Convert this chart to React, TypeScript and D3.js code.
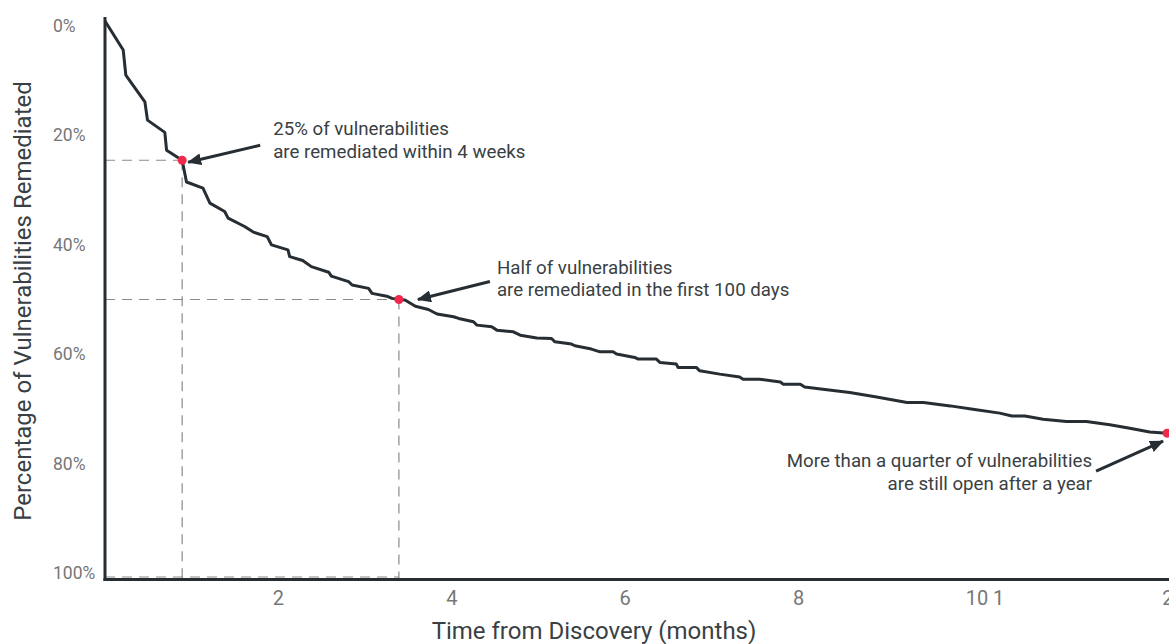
import * as d3 from 'd3';
import React, { useEffect, useRef } from 'react';

// time from discovery (months) and share of vulnerabilities remediated (%)
const months = [0, 0.21, 0.24, 0.46, 0.49, 0.69, 0.71, 0.89, 0.94, 1.13, 1.21, 1.38, 1.42, 1.61, 1.71, 1.87, 1.92, 2.11, 2.13, 2.28, 2.38, 2.58, 2.61, 2.81, 2.85, 3.04, 3.08, 3.25, 3.31, 3.39, 3.46, 3.58, 3.73, 3.83, 4.02, 4.08, 4.25, 4.29, 4.46, 4.52, 4.71, 4.79, 4.98, 5.15, 5.19, 5.38, 5.42, 5.61, 5.71, 5.86, 5.90, 6.11, 6.15, 6.36, 6.40, 6.59, 6.61, 6.82, 6.86, 7.09, 7.32, 7.36, 7.55, 7.79, 7.82, 8.02, 8.07, 8.28, 8.59, 8.90, 9.25, 9.44, 9.75, 10.01, 10.32, 10.46, 10.61, 10.82, 11.09, 11.32, 11.59, 11.82, 12.05, 12.25];
const remediated = [0, 5.2, 9.7, 14.5, 17.8, 20.0, 23.2, 25.0, 28.9, 30.0, 32.7, 34.2, 35.4, 36.9, 37.9, 38.7, 40.2, 41.1, 42.3, 43.0, 44.1, 45.1, 45.8, 46.8, 47.4, 48.0, 48.9, 49.4, 49.8, 50.0, 50.1, 51.2, 51.8, 52.6, 53.1, 53.4, 54.0, 54.6, 54.9, 55.5, 55.8, 56.4, 56.9, 57.0, 57.6, 58.0, 58.3, 58.9, 59.4, 59.4, 59.8, 60.4, 60.7, 60.7, 61.3, 61.6, 62.2, 62.2, 62.8, 63.4, 63.9, 64.3, 64.3, 64.8, 65.2, 65.2, 65.7, 66.1, 66.7, 67.5, 68.5, 68.5, 69.1, 69.7, 70.4, 70.9, 70.9, 71.5, 71.9, 71.9, 72.5, 73.1, 73.8, 74.0];

const yTicks = [0, 20, 40, 60, 80, 100];
const xTickValues = [2, 4, 6, 8, 10.15, 12.26];
const xTickLabels = ['2', '4', '6', '8', '10 1', '2'];

// highlighted points + their notes
const markMonths = [0.89, 3.39, 12.25];
const markValues = [25, 50, 74];
const markGuides = [true, true, false];
const noteLines = [
    ['25% of vulnerabilities', 'are remediated within 4 weeks'],
    ['Half of vulnerabilities', 'are remediated in the first 100 days'],
    ['More than a quarter of vulnerabilities', 'are still open after a year'],
];

const W = 1169, H = 644;
const FONT = 'Roboto, "Noto Sans", sans-serif';
const DARK = '#262d33';
const RED = '#f0284c';

export default function App() {
    const ref = useRef(null);

    useEffect(() => {
        const svg = d3.select(ref.current);
        svg.selectAll('*').remove();

        const x = d3.scaleLinear().domain([0, 12.3]).range([105, 105 + 12.3 * 86.7]);
        const y = d3.scaleLinear().domain([0, 100]).range([21, 578]);
        const yLab = d3.scaleLinear().domain([0, 100]).range([32, 579]);

        const defs = svg.append('defs');
        defs.append('marker')
            .attr('id', 'arrow')
            .attr('viewBox', '0 -6 14 12')
            .attr('refX', 13)
            .attr('markerUnits', 'userSpaceOnUse')
            .attr('markerWidth', 14)
            .attr('markerHeight', 12)
            .attr('orient', 'auto')
            .append('path')
            .attr('d', 'M0,-6 L14,0 L0,6 Z')
            .attr('fill', DARK);

        const g = svg.append('g');

        // guide lines to the axes
        const guides = g.append('g')
            .attr('stroke', '#8a8a8a')
            .attr('stroke-width', 1.2)
            .attr('stroke-dasharray', '10,7')
            .attr('fill', 'none');
        markMonths.forEach((m, i) => {
            if (!markGuides[i]) return;
            guides.append('line')
                .attr('x1', x(0)).attr('x2', x(m))
                .attr('y1', y(markValues[i])).attr('y2', y(markValues[i]));
            guides.append('line')
                .attr('x1', x(m)).attr('x2', x(m))
                .attr('y1', y(markValues[i])).attr('y2', y(100));
        });
        guides.append('line')
            .attr('x1', x(0)).attr('x2', x(markMonths[1]))
            .attr('y1', y(100) - 1).attr('y2', y(100) - 1);

        // axes
        g.append('line')
            .attr('x1', x(0)).attr('x2', x(0))
            .attr('y1', 17).attr('y2', y(100) + 3)
            .attr('stroke', DARK).attr('stroke-width', 3);
        g.append('line')
            .attr('x1', x(0) - 1.5).attr('x2', W)
            .attr('y1', y(100) + 1.5).attr('y2', y(100) + 1.5)
            .attr('stroke', DARK).attr('stroke-width', 3);

        g.append('g').selectAll('text')
            .data(yTicks)
            .enter().append('text')
            .attr('x', 53)
            .attr('y', d => yLab(d))
            .attr('font-size', 17.5)
            .attr('fill', '#777')
            .text(d => d + '%');

        g.append('g').selectAll('text')
            .data(xTickValues)
            .enter().append('text')
            .attr('x', d => x(d))
            .attr('y', 605)
            .attr('text-anchor', 'middle')
            .attr('font-size', 20)
            .attr('fill', '#777')
            .text((d, i) => xTickLabels[i]);

        g.append('text')
            .attr('x', 594).attr('y', 639)
            .attr('text-anchor', 'middle')
            .attr('font-size', 24)
            .attr('fill', '#3a3f44')
            .text('Time from Discovery (months)');

        g.append('text')
            .attr('transform', 'translate(31,301) rotate(-90)')
            .attr('text-anchor', 'middle')
            .attr('font-size', 24)
            .attr('fill', '#3a3f44')
            .text('Percentage of Vulnerabilities Remediated');

        // the curve
        const line = d3.line()
            .x(d => x(d[0]))
            .y(d => y(d[1]));
        g.append('path')
            .datum(months.map((m, i) => [m, remediated[i]]))
            .attr('d', line)
            .attr('fill', 'none')
            .attr('stroke', DARK)
            .attr('stroke-width', 3)
            .attr('stroke-linejoin', 'round');

        g.append('g').selectAll('circle')
            .data(markMonths)
            .enter().append('circle')
            .attr('cx', d => x(d))
            .attr('cy', (d, i) => y(markValues[i]))
            .attr('r', 4.5)
            .attr('fill', RED);

        // annotations: arrow start / tip offsets and text anchor, relative to the point
        const notes = [
            { sx: 78, sy: -15, tx: 6, ty: 2, lx: 91, ly: -25, anchor: 'start' },
            { sx: 91, sy: -18, tx: 19, ty: 0, lx: 98, ly: -26, anchor: 'start' },
            { sx: -71, sy: 38, tx: -4, ty: 8, lx: -75, ly: 34, anchor: 'end' },
        ];
        notes.forEach((n, i) => {
            const px = x(markMonths[i]), py = y(markValues[i]);
            g.append('line')
                .attr('x1', px + n.sx).attr('y1', py + n.sy)
                .attr('x2', px + n.tx).attr('y2', py + n.ty)
                .attr('stroke', DARK)
                .attr('stroke-width', 3)
                .attr('marker-end', 'url(#arrow)');
            const t = g.append('text')
                .attr('text-anchor', n.anchor)
                .attr('font-size', 18.7)
                .attr('fill', '#3a3f44');
            noteLines[i].forEach((s, j) => {
                t.append('tspan')
                    .attr('x', px + n.lx)
                    .attr('y', py + n.ly + j * 22.5)
                    .text(s);
            });
        });
    }, []);

    return (
        <svg ref={ref} width={W} height={H}
            style={{ position: 'fixed', left: 0, top: 0, background: '#fff', fontFamily: FONT }} />
    );
}
